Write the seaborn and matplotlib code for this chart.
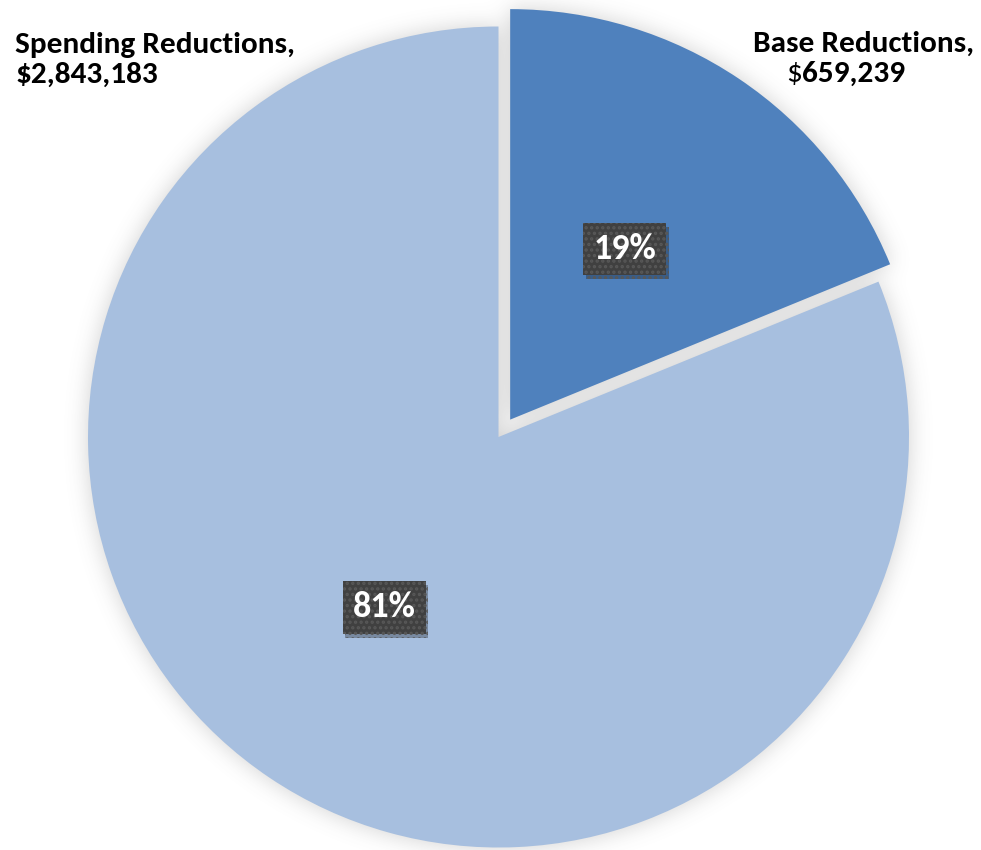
import numpy as np
import matplotlib
matplotlib.use("Agg")
import matplotlib.pyplot as plt
import seaborn as sns
from matplotlib import patheffects as pe

# Budget reduction breakdown
categories = ["Base Reductions", "Spending Reductions"]
amounts = [659239, 2843183]
slice_colors = ["#4F81BD", "#A7BFDF"]

sns.set_theme(style="white")
plt.rcParams["font.family"] = ["Carlito", "DejaVu Sans"]
plt.rcParams["hatch.linewidth"] = 1.6

W, H = 981, 850
fig = plt.figure(figsize=(W / 100, H / 100), dpi=100)
fig.patch.set_facecolor("white")
ax = fig.add_axes([0, 0, 1, 1])

R = 410.5
center = (498.5, 413.0)
palette = sns.color_palette(slice_colors)

wedges, _, pct_texts = ax.pie(
    amounts,
    explode=[0.051 * R, 0],
    colors=palette,
    startangle=90,
    counterclock=False,
    radius=R,
    center=center,
    autopct="%1.0f%%",
    pctdistance=0.5,
    wedgeprops=dict(linewidth=0, zorder=2),
    textprops=dict(color="white", fontsize=26, fontweight="bold"),
)

# Soft glow behind the slices, built from the wedge geometry
xs = np.arange(W) + 0.5
ys = np.arange(H) + 0.5
X, Y = np.meshgrid(xs, ys)
mask = np.zeros((H, W))
for w in wedges:
    wx, wy = w.center
    dx, dy = X - wx, Y - wy
    ang = np.degrees(np.arctan2(dy, dx)) % 360
    span = w.theta2 - w.theta1
    inside = (np.hypot(dx, dy) <= w.r) & (((ang - w.theta1 % 360) % 360) <= span)
    mask[inside] = 1.0

sigma = 11
k = np.arange(-4 * sigma, 4 * sigma + 1)
kern = np.exp(-0.5 * (k / sigma) ** 2)
kern /= kern.sum()
blur = np.apply_along_axis(lambda r: np.convolve(r, kern, mode="same"), 1, mask)
blur = np.apply_along_axis(lambda c: np.convolve(c, kern, mode="same"), 0, blur)
glow = np.zeros((H, W, 4))
glow[..., :3] = 0.35
glow[..., 3] = np.clip(blur * 0.28, 0, 1)
ax.imshow(glow, origin="lower", extent=(0, W, 0, H), zorder=1, interpolation="bilinear")

# Percentage labels on dark dotted boxes
for t in pct_texts:
    t.set_zorder(5)
    t.set_bbox(dict(boxstyle="square,pad=0.28", facecolor="#404040",
                    edgecolor="#585858", hatch="...", linewidth=0))
    t.get_bbox_patch().set_path_effects(
        [pe.SimplePatchShadow(offset=(2, -3), shadow_rgbFace="black", alpha=0.28),
         pe.Normal()])

# Category labels with amounts
label_kw = dict(fontsize=22.5, fontweight="bold", color="black", va="baseline", zorder=6)
ax.text(15, H - 53, f"{categories[1]},", ha="left", **label_kw)
ax.text(15, H - 83, f"${amounts[1]:,}", ha="left", **label_kw)

ax.text(753, H - 52, f"{categories[0]},", ha="left", **label_kw)
dollar = ax.text(786, H - 82, "$", ha="left", fontsize=22.5, fontweight="normal",
                 color="black", va="baseline", zorder=6)
ax.annotate(f"{amounts[0]:,}", xy=(1, 0), xycoords=dollar, ha="left", va="bottom",
            fontsize=22.5, fontweight="bold", color="black", zorder=6)

ax.set_xlim(0, W)
ax.set_ylim(0, H)
ax.set_aspect("equal")
ax.axis("off")

fig.savefig("out.png", dpi=100, facecolor="white")
